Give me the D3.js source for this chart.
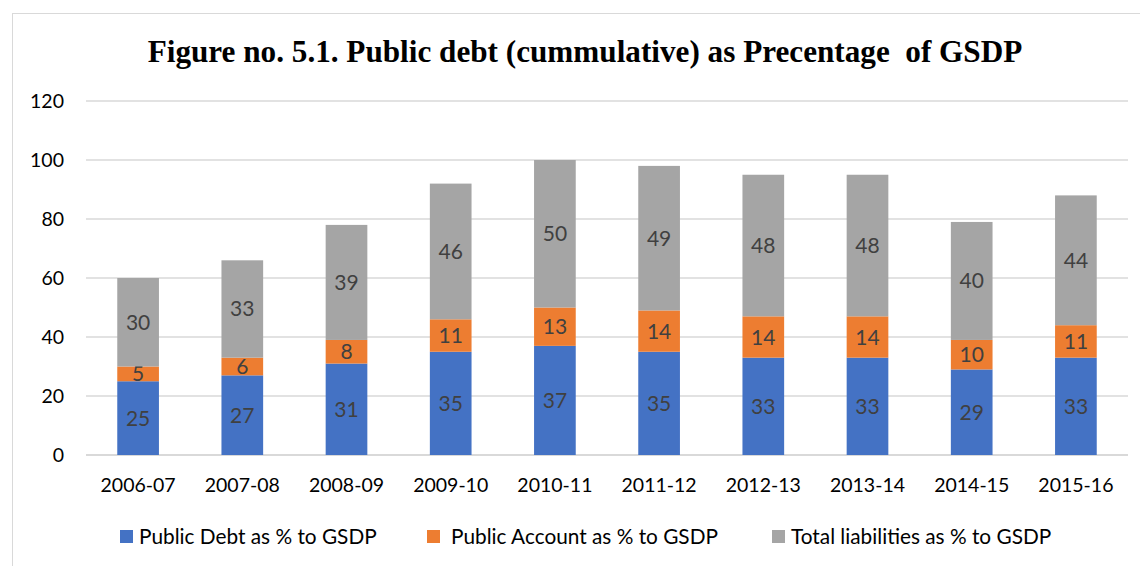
<!DOCTYPE html>
<html>
<head>
<meta charset="utf-8">
<script src="https://cdn.jsdelivr.net/npm/d3@7"></script>
<style>
  body { margin: 0; background: #fff; }
  svg { display: block; }
</style>
</head>
<body>
<svg id="chart" width="1140" height="566"></svg>
<script>
const years = ['2006-07', '2007-08', '2008-09', '2009-10', '2010-11', '2011-12', '2012-13', '2013-14', '2014-15', '2015-16'];
const publicDebt = [25, 27, 31, 35, 37, 35, 33, 33, 29, 33];
const publicAccount = [5, 6, 8, 11, 13, 14, 14, 14, 10, 11];
const totalLiabilities = [30, 33, 39, 46, 50, 49, 48, 48, 40, 44];
const yTicks = [0, 20, 40, 60, 80, 100, 120];
const seriesNames = ['Public Debt as % to GSDP', 'Public Account as % to GSDP', 'Total liabilities as % to GSDP'];
const colors = ['#4472c4', '#ed7d31', '#a5a5a5'];

const svg = d3.select('#chart');
const font = 'Lato, "Open Sans", sans-serif';

// outer border
svg.append('rect')
    .attr('x', 12.5).attr('y', 13.5)
    .attr('width', 1140).attr('height', 566)
    .attr('fill', 'none')
    .attr('stroke', '#d9d9d9');

svg.append('text')
    .attr('x', 585).attr('y', 62)
    .attr('text-anchor', 'middle')
    .style('font-family', '"Liberation Serif", "Times New Roman", serif')
    .style('font-weight', 'bold')
    .style('font-size', '31.2px')
    .style('white-space', 'pre')
    .text('Figure no. 5.1. Public debt (cummulative) as Precentage  of GSDP');

const x = d3.scaleBand().domain(years).range([86, 1128]).paddingInner(0.6).paddingOuter(0.3);
const y = d3.scaleLinear().domain([0, 120]).range([455, 101]);

// gridlines
svg.append('g').selectAll('line')
    .data(yTicks)
    .enter().append('line')
    .attr('x1', 86).attr('x2', 1128)
    .attr('y1', d => y(d)).attr('y2', d => y(d))
    .attr('stroke', '#d9d9d9')
    .attr('stroke-width', d => d === 0 ? 2 : 1.3);

svg.append('g').selectAll('text')
    .data(yTicks)
    .enter().append('text')
    .attr('x', 64).attr('y', d => y(d) + 7)
    .attr('text-anchor', 'end')
    .style('font-family', font)
    .style('font-size', '19.5px')
    .style('fill', '#000')
    .text(d => d);

// stacked data
const rows = years.map((yr, i) => ({ year: yr, a: publicDebt[i], b: publicAccount[i], c: totalLiabilities[i] }));
const stack = d3.stack().keys(['a', 'b', 'c'])(rows);

const layers = svg.append('g').selectAll('g')
    .data(stack)
    .enter().append('g')
    .attr('fill', (d, i) => colors[i]);

layers.selectAll('rect')
    .data(d => d)
    .enter().append('rect')
    .attr('x', d => x(d.data.year))
    .attr('width', x.bandwidth())
    .attr('y', d => y(d[1]))
    .attr('height', d => y(d[0]) - y(d[1]));

layers.selectAll('text')
    .data(d => d)
    .enter().append('text')
    .attr('x', d => x(d.data.year) + x.bandwidth() / 2)
    .attr('y', d => y((d[0] + d[1]) / 2) + 7.5)
    .attr('text-anchor', 'middle')
    .style('font-family', font)
    .style('font-size', '21px')
    .style('fill', '#404040')
    .text(d => d[1] - d[0]);

// x labels
svg.append('g').selectAll('text')
    .data(years)
    .enter().append('text')
    .attr('x', d => x(d) + x.bandwidth() / 2)
    .attr('y', 492)
    .attr('text-anchor', 'middle')
    .style('font-family', font)
    .style('font-size', '19.5px')
    .style('fill', '#000')
    .text(d => d);

// legend
const legendX = [120, 427, 772];
const legendTextX = [139, 451, 791];
const legend = svg.append('g').selectAll('g')
    .data(seriesNames)
    .enter().append('g');

legend.append('rect')
    .attr('x', (d, i) => legendX[i]).attr('y', 530)
    .attr('width', 13).attr('height', 13)
    .attr('fill', (d, i) => colors[i]);

legend.append('text')
    .attr('x', (d, i) => legendTextX[i]).attr('y', 544)
    .style('font-family', font)
    .style('font-size', '20.8px')
    .style('fill', '#000')
    .text(d => d);
</script>
</body>
</html>
